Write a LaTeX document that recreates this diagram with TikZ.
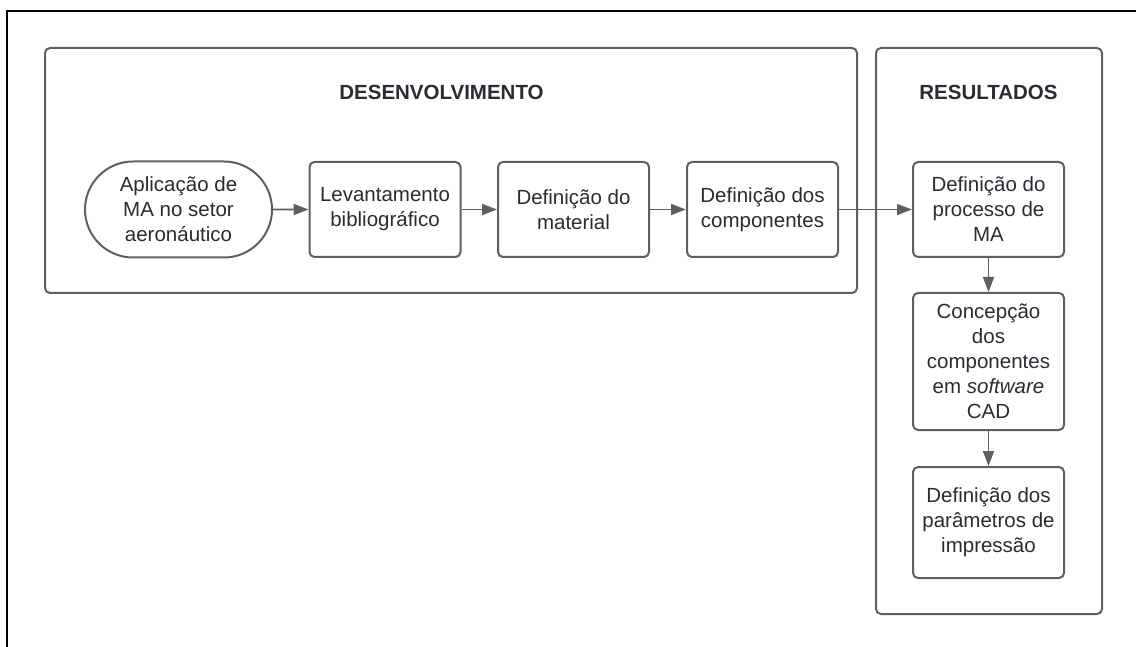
\documentclass[tikz,border=0pt]{standalone}
\usepackage{fontspec}
\setmainfont{Liberation Sans}
\usetikzlibrary{arrows.meta,shapes.misc}
\definecolor{linegray}{HTML}{5F5F5F}
\definecolor{txt}{HTML}{282C33}
\begin{document}
\begin{tikzpicture}[x=1pt,y=-1pt,
  procbox/.style={draw=linegray, line width=2pt, rounded corners=5pt, align=center, text=txt,
    font=\fontsize{20.5}{25}\selectfont, inner sep=0pt, minimum width=151pt, minimum height=95pt},
  termbox/.style={draw=linegray, line width=2pt, rounded rectangle, align=center, text=txt,
    font=\fontsize{20.5}{25}\selectfont, inner sep=0pt, minimum width=187pt, minimum height=96pt},
  groupbox/.style={draw=linegray, line width=2pt, rounded corners=5pt, inner sep=0pt},
  flow/.style={draw=linegray, line width=1.8pt, -{Triangle[length=15pt,width=11pt]}},
  grouptitle/.style={font=\fontsize{20.5}{25}\selectfont\bfseries, text=txt, anchor=base}]
\useasboundingbox (0,0) rectangle (1136,647);
% outer frame (top and left)
\coordinate (frTR) at (1136,11);
\coordinate (frTL) at (7,11);
\coordinate (frBL) at (7,647);
\draw[black, line width=1.3pt] (frTR) -- (frTL) -- (frBL);
% groups
\node[groupbox, minimum width=812pt, minimum height=245pt] (dev) at (451,170.5) {};
\node[groupbox, minimum width=226pt, minimum height=566pt] (res) at (989,331) {};
\node[grouptitle] (devt) at (441.5,99.3) {DESENVOLVIMENTO};
\node[grouptitle] (rest) at (988.5,99.3) {RESULTADOS};
% nodes
\node[termbox] (a) at (178.5,209.5) {Aplicação de\\MA no setor\\aeronáutico};
\node[procbox] (b) at (385,209.5) {Levantamento\\bibliográfico};
\node[procbox] (c) at (573.5,209.5) {Definição do\\material};
\node[procbox] (d) at (762.5,209.5) {Definição dos\\componentes};
\node[procbox] (e) at (988.5,209.5) {Definição do\\processo de\\MA};
\node[procbox, minimum height=137pt] (f) at (988.5,361.5) {Concepção\\dos\\componentes\\em \textit{software}\\CAD};
\node[procbox, minimum height=111pt] (g) at (988.5,522.5) {Definição dos\\parâmetros de\\impressão};
% connectors
\draw[flow] (a) -- (b);
\draw[flow] (b) -- (c);
\draw[flow] (c) -- (d);
\draw[flow] (d) -- (e);
\draw[flow] (e) -- (f);
\draw[flow] (f) -- (g);
\end{tikzpicture}
\end{document}
